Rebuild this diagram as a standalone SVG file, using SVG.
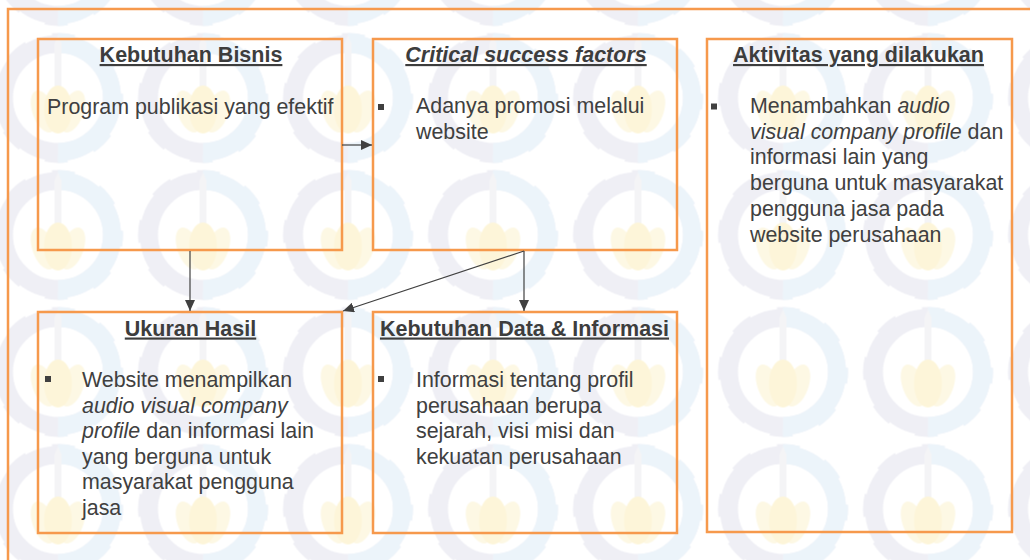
<svg xmlns="http://www.w3.org/2000/svg" width="1030" height="560" viewBox="0 0 1030 560">
<style>
.box{fill:none;stroke:#f6994c;stroke-width:2.5;}
.title{font-family:"Liberation Sans",Arial,sans-serif;font-size:21.5px;font-weight:bold;fill:#3d3d3d;text-anchor:middle;text-decoration:underline;}
.body{font-family:"Liberation Sans",Arial,sans-serif;font-size:21.4px;fill:#404040;}
.it{font-style:italic;}
.bullet{fill:#404040;}
.conn{stroke:#404040;stroke-width:1.2;fill:none;}
</style>
<defs>
<marker id="arr" markerUnits="userSpaceOnUse" markerWidth="11" markerHeight="10" refX="11" refY="5" orient="auto">
<path d="M0,0 L11,5 L0,10 z" fill="#404040"/>
</marker>
<clipPath id="rhalf"><rect x="72.5" y="0" width="80" height="137"/></clipPath>
<g id="gear">
<circle cx="72.5" cy="68.5" r="54" fill="none" stroke-width="18"/>
<circle cx="72.5" cy="68.5" r="61" fill="none" stroke-width="8" stroke-dasharray="22 26.7" stroke-dashoffset="11"/>
</g>
<pattern id="wm" patternUnits="userSpaceOnUse" x="-14.5" y="29.5" width="145" height="137">
<g opacity="0.6">
<use href="#gear" stroke="#e4e4ee"/>
<use href="#gear" stroke="#e0ecf7" clip-path="url(#rhalf)"/>
<rect x="69" y="14" width="7" height="50" fill="#ececf0"/>
<path d="M69,14 L72.5,6 L76,14 z" fill="#ececf0"/>
<ellipse cx="58" cy="82" rx="11" ry="22" transform="rotate(-20 58 82)" fill="#fbf3d2"/>
<ellipse cx="87" cy="82" rx="11" ry="22" transform="rotate(20 87 82)" fill="#fbf3d2"/>
<ellipse cx="72.5" cy="80" rx="14" ry="24" fill="#fcefbf"/>
</g>
</pattern>
</defs>
<rect x="0" y="0" width="1030" height="560" fill="#ffffff"/>
<rect x="0" y="0" width="1030" height="560" fill="url(#wm)"/>
<rect id="frame" class="box" x="8" y="9" width="1040" height="570"/>

<g id="kebutuhan-bisnis">
<rect class="box" x="38" y="39" width="304" height="211"/>
<text class="title" x="191" y="62">Kebutuhan Bisnis</text>
<text class="body" x="47" y="114">Program publikasi yang efektif</text>
</g>

<g id="critical-success-factors">
<rect class="box" x="373" y="39" width="304" height="211"/>
<text class="title it" x="526" y="62">Critical success factors</text>
<rect class="bullet" x="378" y="104" width="6" height="6"/>
<text class="body" x="416" y="113.3">Adanya promosi melalui</text>
<text class="body" x="416" y="139.3">website</text>
</g>

<g id="aktivitas">
<rect class="box" x="707" y="39" width="305" height="493"/>
<text class="title" x="858.5" y="62">Aktivitas yang dilakukan</text>
<rect class="bullet" x="711" y="103.5" width="6" height="6"/>
<text class="body" x="750" y="113">Menambahkan <tspan class="it">audio</tspan></text>
<text class="body" x="750" y="138.7"><tspan class="it">visual company profile</tspan> dan</text>
<text class="body" x="750" y="164.4">informasi lain yang</text>
<text class="body" x="750" y="190.1">berguna untuk masyarakat</text>
<text class="body" x="750" y="215.8">pengguna jasa pada</text>
<text class="body" x="750" y="241.5">website perusahaan</text>
</g>

<g id="ukuran-hasil">
<rect class="box" x="38" y="312" width="304" height="221"/>
<text class="title" x="190.5" y="335.5">Ukuran Hasil</text>
<rect class="bullet" x="45" y="376" width="6" height="6"/>
<text class="body" x="82" y="387.3">Website menampilkan</text>
<text class="body" x="82" y="412.8"><tspan class="it">audio visual company</tspan></text>
<text class="body" x="82" y="438.3"><tspan class="it">profile</tspan> dan informasi lain</text>
<text class="body" x="82" y="463.8">yang berguna untuk</text>
<text class="body" x="82" y="489.3">masyarakat pengguna</text>
<text class="body" x="82" y="514.8">jasa</text>
</g>

<g id="kebutuhan-data">
<rect class="box" x="373" y="312" width="304" height="221"/>
<text class="title" x="524.5" y="335.5">Kebutuhan Data &amp; Informasi</text>
<rect class="bullet" x="378" y="376" width="6" height="6"/>
<text class="body" x="416" y="387.3">Informasi tentang profil</text>
<text class="body" x="416" y="412.5">perusahaan berupa</text>
<text class="body" x="416" y="437.8">sejarah, visi misi dan</text>
<text class="body" x="416" y="463.5">kekuatan perusahaan</text>
</g>

<g id="connectors">
<line class="conn" x1="342" y1="145" x2="372" y2="145" marker-end="url(#arr)"/>
<line class="conn" x1="190" y1="251" x2="190" y2="311" marker-end="url(#arr)"/>
<line class="conn" x1="524" y1="251" x2="524" y2="311" marker-end="url(#arr)"/>
<line class="conn" x1="524" y1="251" x2="343" y2="311" marker-end="url(#arr)"/>
</g>
</svg>
